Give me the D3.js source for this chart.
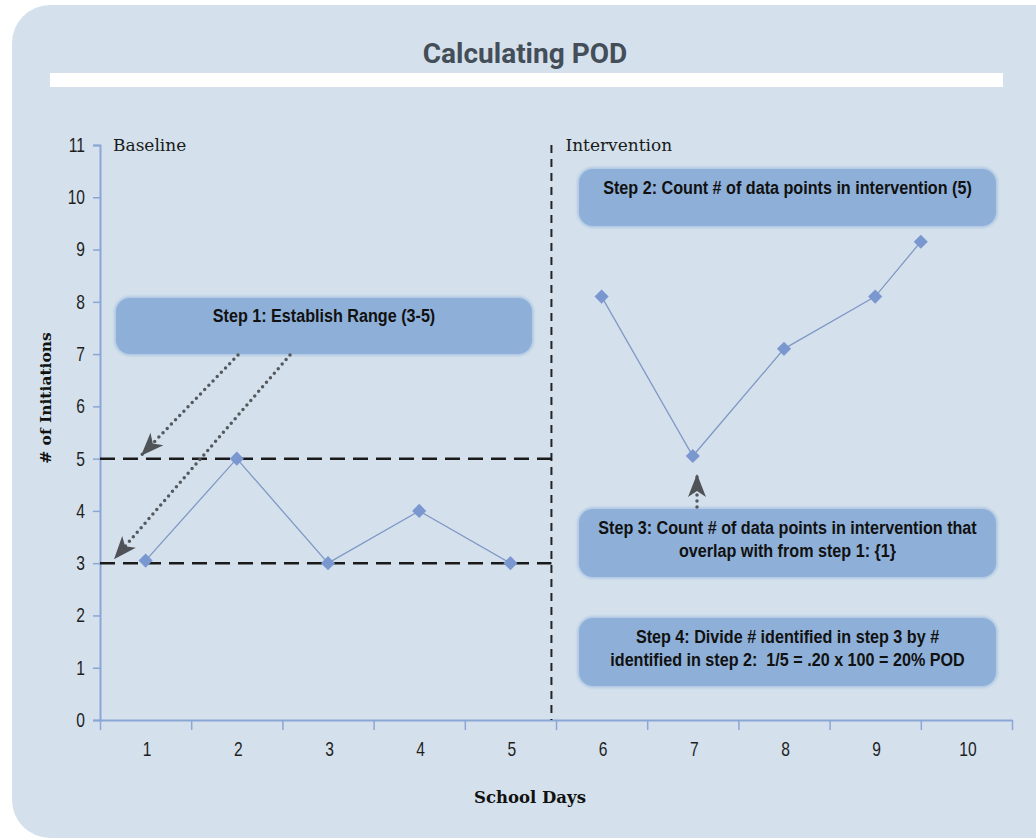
<!DOCTYPE html>
<html>
<head>
<meta charset="utf-8">
<script src="https://cdn.jsdelivr.net/npm/d3@7"></script>
<style>
  html, body { margin: 0; padding: 0; background: #ffffff; }
  svg { display: block; }
</style>
</head>
<body>
<svg id="chart" width="1036" height="840"></svg>
<script>
// data
const days = [1, 2, 3, 4, 5, 6, 7, 8, 9, 9.5];
const initiations = [3.05, 5, 3, 4, 3, 8.1, 5.05, 7.1, 8.1, 9.15];
const dayLabels = [1, 2, 3, 4, 5, 6, 7, 8, 9, 10];
const yTicks = [0, 1, 2, 3, 4, 5, 6, 7, 8, 9, 10, 11];
const rangeLines = [5, 3];
const phaseChange = 5.45;
const phaseNames = ["Baseline", "Intervention"];
const step1 = ["Step 1: Establish Range (3-5)"];
const step2 = ["Step 2: Count # of data points in intervention (5)"];
const step3 = ["Step 3: Count # of data points in intervention that", "overlap with from step 1: {1}"];
const step4 = ["Step 4: Divide # identified in step 3 by #", "identified in step 2:  1/5 = .20 x 100 = 20% POD"];

const svg = d3.select("#chart");
const sans = "'Liberation Sans', Arial, sans-serif";
const slab = "'DejaVu Serif', 'Liberation Serif', serif";
const squeeze = 0.85;     // condensed look for the box texts
const tickSqueeze = 0.78; // and for tick labels

// panel background
svg.append("rect")
  .attr("x", 12).attr("y", 5)
  .attr("width", 1100).attr("height", 833)
  .attr("rx", 38)
  .attr("fill", "#d4e1ec");

svg.append("text")
  .attr("x", 525).attr("y", 63)
  .attr("text-anchor", "middle")
  .attr("font-family", "Roboto, 'Open Sans', sans-serif")
  .attr("font-weight", "bold")
  .attr("font-size", 28)
  .attr("fill", "#444e58")
  .text("Calculating POD");

svg.append("rect")
  .attr("x", 50).attr("y", 73)
  .attr("width", 953).attr("height", 14)
  .attr("fill", "#ffffff");

const x = d3.scaleLinear().domain([0.5, 10.5]).range([100, 1012]);
const y = d3.scaleLinear().domain([0, 11]).range([720, 145]);

const defs = svg.append("defs");
defs.append("marker")
  .attr("id", "head")
  .attr("viewBox", "-24 -10 26 20")
  .attr("refX", 0).attr("refY", 0)
  .attr("markerWidth", 26).attr("markerHeight", 20)
  .attr("markerUnits", "userSpaceOnUse")
  .attr("orient", "auto")
  .append("path")
  .attr("d", "M0,0 L-23,-9 L-17,0 L-23,9 Z")
  .attr("fill", "#4f5357");

const glow = defs.append("filter").attr("id", "soft")
  .attr("x", "-5%").attr("y", "-20%").attr("width", "110%").attr("height", "140%");
glow.append("feGaussianBlur").attr("stdDeviation", 1.2);

// y axis
const yAxis = svg.append("g")
  .attr("transform", "translate(100,0)")
  .call(d3.axisLeft(y).tickValues(yTicks).tickSize(7).tickPadding(8));
yAxis.select(".domain").attr("stroke", "#8ba5d6").attr("stroke-width", 2);
yAxis.selectAll(".tick line").attr("stroke", "#8ba5d6").attr("stroke-width", 1.5);
yAxis.selectAll("text")
  .attr("font-family", sans).attr("font-size", 20).attr("fill", "#1e1e1e")
  .attr("x", null)
  .attr("transform", `translate(-15,0) scale(${tickSqueeze},1)`);

// x axis: ticks at day boundaries, labels at centres
const bounds = d3.range(0.5, 11, 1);
const xAxis = svg.append("g")
  .attr("transform", "translate(0,720)")
  .call(d3.axisBottom(x).tickValues(bounds).tickSize(10).tickSizeOuter(0).tickFormat(""));
xAxis.select(".domain").attr("stroke", "#8ba5d6").attr("stroke-width", 2);
xAxis.selectAll(".tick line").attr("stroke", "#8ba5d6").attr("stroke-width", 1.5);

const xLabels = svg.append("g")
  .attr("transform", "translate(0,720)")
  .call(d3.axisBottom(x).tickValues(dayLabels).tickSize(0).tickPadding(22));
xLabels.select(".domain").remove();
xLabels.selectAll("text")
  .attr("font-family", sans).attr("font-size", 20).attr("fill", "#1e1e1e")
  .attr("transform", `translate(1,0) scale(${tickSqueeze},1)`);

// axis titles
svg.append("text")
  .attr("transform", "translate(51,398) rotate(-90)")
  .attr("text-anchor", "middle")
  .attr("font-family", slab).attr("font-weight", "bold").attr("font-size", 15.5)
  .attr("fill", "#111")
  .text("# of Initiations");

svg.append("text")
  .attr("x", 530).attr("y", 803)
  .attr("text-anchor", "middle")
  .attr("font-family", slab).attr("font-weight", "bold").attr("font-size", 16.5)
  .attr("fill", "#111")
  .text("School Days");

// phase labels
svg.selectAll(".phase")
  .data(phaseNames)
  .enter()
  .append("text")
  .attr("class", "phase")
  .attr("x", (d, i) => i === 0 ? 113 : x(phaseChange) + 14)
  .attr("y", 151)
  .attr("font-family", slab).attr("font-size", 17)
  .attr("fill", "#1a1a1a")
  .text(d => d);

// phase change line
svg.append("line")
  .attr("x1", x(phaseChange)).attr("x2", x(phaseChange))
  .attr("y1", y(11)).attr("y2", y(0))
  .attr("stroke", "#222").attr("stroke-width", 2)
  .attr("stroke-dasharray", "8,6");

// range lines
svg.selectAll(".range")
  .data(rangeLines)
  .enter()
  .append("line")
  .attr("class", "range")
  .attr("x1", x(0.5)).attr("x2", x(phaseChange))
  .attr("y1", d => y(d)).attr("y2", d => y(d))
  .attr("stroke", "#1a1a1a").attr("stroke-width", 2.5)
  .attr("stroke-dasharray", "15,8");

// data series, baseline and intervention drawn as separate lines
const points = days.map((d, i) => ({ day: d, value: initiations[i] }));
const line = d3.line().x(d => x(d.day)).y(d => y(d.value));
[points.filter(p => p.day < phaseChange), points.filter(p => p.day > phaseChange)]
  .forEach(seg => {
    svg.append("path")
      .datum(seg)
      .attr("d", line)
      .attr("fill", "none")
      .attr("stroke", "#8198c6")
      .attr("stroke-width", 1.3);
  });

svg.selectAll(".pt")
  .data(points)
  .enter()
  .append("path")
  .attr("class", "pt")
  .attr("d", d3.symbol(d3.symbolSquare, 100))
  .attr("transform", d => `translate(${x(d.day)},${y(d.value)}) rotate(45)`)
  .attr("fill", "#7a97cf");

// step boxes
function stepBox(x0, y0, w, h, lines, firstBase) {
  const g = svg.append("g");
  g.append("rect")
    .attr("x", x0 - 1).attr("y", y0 - 1)
    .attr("width", w + 2).attr("height", h + 2)
    .attr("rx", 16)
    .attr("fill", "#b2c9e4")
    .attr("filter", "url(#soft)");
  g.append("rect")
    .attr("x", x0 + 1).attr("y", y0 + 1)
    .attr("width", w - 2).attr("height", h - 2)
    .attr("rx", 14)
    .attr("fill", "#8eb0d8");
  g.selectAll("text")
    .data(lines)
    .enter()
    .append("text")
    .attr("transform", (d, i) => `translate(${x0 + w / 2},${firstBase + i * 23}) scale(${squeeze},1)`)
    .attr("text-anchor", "middle")
    .attr("font-family", sans)
    .attr("font-weight", "bold")
    .attr("font-size", 19)
    .attr("fill", "#111")
    .style("white-space", "pre")
    .text(d => d);
}

stepBox(115, 297, 418, 58, step1, 322);
stepBox(578, 168, 419, 59, step2, 194);
stepBox(578, 508, 419, 70, step3, 534);
stepBox(578, 617, 419, 70, step4, 643);

// dotted arrows
const arrows = [
  { x1: 238, y1: 355, x2: 141, y2: y(rangeLines[0]) - 3 },
  { x1: 290, y1: 355, x2: 114, y2: y(rangeLines[1]) - 4 },
  { x1: 697, y1: 507, x2: 697, y2: 474 }
];
svg.selectAll(".arrow")
  .data(arrows)
  .enter()
  .append("line")
  .attr("class", "arrow")
  .attr("x1", d => d.x1).attr("y1", d => d.y1)
  .attr("x2", d => d.x2).attr("y2", d => d.y2)
  .attr("stroke", "#55595d")
  .attr("stroke-width", 3.5)
  .attr("stroke-linecap", "round")
  .attr("stroke-dasharray", "0,6")
  .attr("marker-end", "url(#head)");
</script>
</body>
</html>
